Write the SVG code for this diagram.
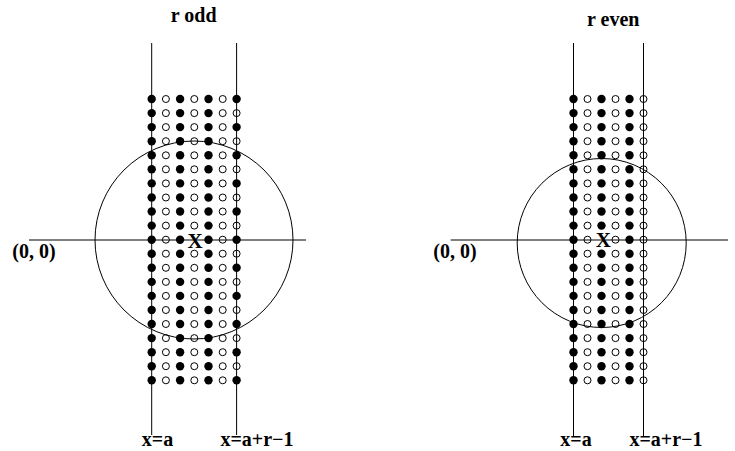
<svg xmlns="http://www.w3.org/2000/svg" xmlns:xlink="http://www.w3.org/1999/xlink" width="735" height="451" viewBox="0 0 735 451">
<style>
.ln{stroke:#000;stroke-width:1;fill:none}
.f{fill:#000}
.o{fill:none;stroke:#000;stroke-width:1}
.t{font-family:"Liberation Serif","Times New Roman",serif;font-weight:bold;font-size:20px;fill:#000;text-anchor:middle}
.x{font-size:21px}
</style>
<defs>
<g id="rowLE">
<circle class="f" cx="151.7" cy="0" r="4.2"/><circle class="o" cx="165.9" cy="0" r="3.5"/><circle class="f" cx="180.1" cy="0" r="4.2"/><circle class="o" cx="194.3" cy="0" r="3.5"/><circle class="f" cx="208.5" cy="0" r="4.2"/><circle class="o" cx="222.7" cy="0" r="3.5"/><circle class="f" cx="236.6" cy="0" r="4.2"/>
</g>
<g id="rowLO">
<circle class="f" cx="151.7" cy="0" r="4.2"/><circle class="o" cx="165.9" cy="0" r="3.5"/><circle class="f" cx="180.1" cy="0" r="4.2"/><circle class="o" cx="194.3" cy="0" r="3.5"/><circle class="f" cx="208.5" cy="0" r="4.2"/><circle class="o" cx="222.7" cy="0" r="3.5"/><circle class="o" cx="236.6" cy="0" r="3.5"/>
</g>
<g id="rowR">
<circle class="f" cx="573.5" cy="0" r="4.2"/><circle class="o" cx="587.5" cy="0" r="3.5"/><circle class="f" cx="601.5" cy="0" r="4.2"/><circle class="o" cx="615.5" cy="0" r="3.5"/><circle class="f" cx="629.5" cy="0" r="4.2"/><circle class="o" cx="643.5" cy="0" r="3.5"/>
</g>
</defs>

<g id="left-panel">
  <text class="t" x="193.7" y="22">r odd</text>
  <g id="left-lines">
    <line class="ln" x1="151.7" y1="43" x2="151.7" y2="435"/>
    <line class="ln" x1="236.6" y1="43" x2="236.6" y2="435"/>
    <line class="ln" x1="29" y1="240" x2="306" y2="240"/>
    <circle class="ln" cx="194" cy="240" r="99"/>
  </g>
  <g id="left-grid">
    <use xlink:href="#rowLE" href="#rowLE" y="99"/>
    <use xlink:href="#rowLO" href="#rowLO" y="113.1"/>
    <use xlink:href="#rowLE" href="#rowLE" y="127.1"/>
    <use xlink:href="#rowLO" href="#rowLO" y="141.2"/>
    <use xlink:href="#rowLE" href="#rowLE" y="155.3"/>
    <use xlink:href="#rowLO" href="#rowLO" y="169.3"/>
    <use xlink:href="#rowLE" href="#rowLE" y="183.4"/>
    <use xlink:href="#rowLO" href="#rowLO" y="197.5"/>
    <use xlink:href="#rowLE" href="#rowLE" y="211.5"/>
    <use xlink:href="#rowLO" href="#rowLO" y="225.6"/>
    <g id="left-row10">
      <circle class="f" cx="151.7" cy="239.7" r="4.2"/><circle class="o" cx="165.9" cy="239.7" r="3.5"/><circle class="f" cx="180.1" cy="239.7" r="4.2"/><circle class="f" cx="208.5" cy="239.7" r="4.2"/><circle class="o" cx="222.7" cy="239.7" r="3.5"/><circle class="f" cx="236.6" cy="239.7" r="4.2"/>
    </g>
    <use xlink:href="#rowLO" href="#rowLO" y="253.7"/>
    <use xlink:href="#rowLE" href="#rowLE" y="267.8"/>
    <use xlink:href="#rowLO" href="#rowLO" y="281.9"/>
    <use xlink:href="#rowLE" href="#rowLE" y="295.9"/>
    <use xlink:href="#rowLO" href="#rowLO" y="310"/>
    <use xlink:href="#rowLE" href="#rowLE" y="324"/>
    <use xlink:href="#rowLO" href="#rowLO" y="338.1"/>
    <use xlink:href="#rowLE" href="#rowLE" y="352.2"/>
    <use xlink:href="#rowLO" href="#rowLO" y="366.2"/>
    <use xlink:href="#rowLE" href="#rowLE" y="380.3"/>
  </g>
  <text class="t x" x="195" y="248">X</text>
  <text class="t" x="34" y="258">(0, 0)</text>
  <text class="t" x="157.5" y="446">x=a</text>
  <text class="t" x="257" y="446">x=a+r−1</text>
</g>

<g id="right-panel">
  <text class="t" x="613.3" y="26">r even</text>
  <g id="right-lines">
    <line class="ln" x1="573.5" y1="43" x2="573.5" y2="437"/>
    <line class="ln" x1="643.5" y1="43" x2="643.5" y2="437"/>
    <line class="ln" x1="450.7" y1="240" x2="728" y2="240"/>
    <circle class="ln" cx="601.7" cy="243" r="84.5"/>
  </g>
  <g id="right-grid">
    <use xlink:href="#rowR" href="#rowR" y="99"/>
    <use xlink:href="#rowR" href="#rowR" y="113.1"/>
    <use xlink:href="#rowR" href="#rowR" y="127.1"/>
    <use xlink:href="#rowR" href="#rowR" y="141.2"/>
    <use xlink:href="#rowR" href="#rowR" y="155.3"/>
    <use xlink:href="#rowR" href="#rowR" y="169.3"/>
    <use xlink:href="#rowR" href="#rowR" y="183.4"/>
    <use xlink:href="#rowR" href="#rowR" y="197.5"/>
    <use xlink:href="#rowR" href="#rowR" y="211.5"/>
    <use xlink:href="#rowR" href="#rowR" y="225.6"/>
    <g id="right-row10">
      <circle class="f" cx="573.5" cy="239.7" r="4.2"/><circle class="o" cx="587.5" cy="239.7" r="3.5"/><circle class="o" cx="615.5" cy="239.7" r="3.5"/><circle class="f" cx="629.5" cy="239.7" r="4.2"/><circle class="o" cx="643.5" cy="239.7" r="3.5"/>
    </g>
    <use xlink:href="#rowR" href="#rowR" y="253.7"/>
    <use xlink:href="#rowR" href="#rowR" y="267.8"/>
    <use xlink:href="#rowR" href="#rowR" y="281.9"/>
    <use xlink:href="#rowR" href="#rowR" y="295.9"/>
    <use xlink:href="#rowR" href="#rowR" y="310"/>
    <use xlink:href="#rowR" href="#rowR" y="324"/>
    <use xlink:href="#rowR" href="#rowR" y="338.1"/>
    <use xlink:href="#rowR" href="#rowR" y="352.2"/>
    <use xlink:href="#rowR" href="#rowR" y="366.2"/>
    <use xlink:href="#rowR" href="#rowR" y="380.3"/>
  </g>
  <text class="t x" x="603.3" y="247">X</text>
  <text class="t" x="455" y="258">(0, 0)</text>
  <text class="t" x="576" y="446">x=a</text>
  <text class="t" x="666" y="446">x=a+r−1</text>
</g>
</svg>
